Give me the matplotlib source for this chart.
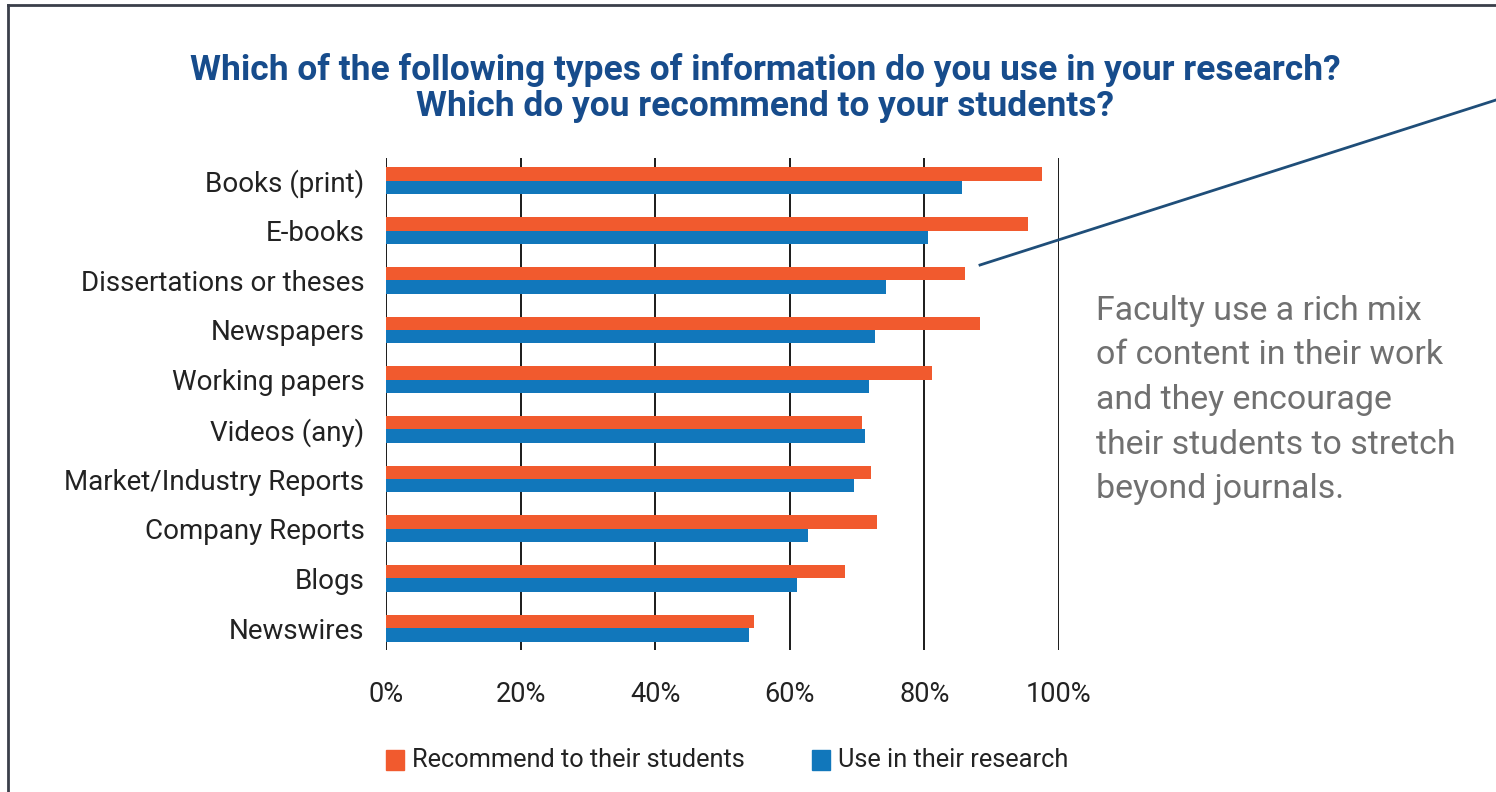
import matplotlib
matplotlib.use("Agg")
import matplotlib.pyplot as plt
from matplotlib.lines import Line2D
from matplotlib.patches import Rectangle
import numpy as np

plt.rcParams['font.family'] = ['Roboto', 'DejaVu Sans']

categories = ["Books (print)", "E-books", "Dissertations or theses", "Newspapers",
              "Working papers", "Videos (any)", "Market/Industry Reports",
              "Company Reports", "Blogs", "Newswires"]
recommend = [97.4, 95.4, 86.1, 88.3, 81.2, 70.7, 72.1, 72.9, 68.2, 54.7]
use_research = [85.6, 80.6, 74.3, 72.6, 71.8, 71.2, 69.6, 62.7, 61.1, 53.9]
xticks = [0, 20, 40, 60, 80, 100]
xticklabels = ["0%", "20%", "40%", "60%", "80%", "100%"]
series_names = ["Recommend to their students", "Use in their research"]
title = "Which of the following types of information do you use in your research?\nWhich do you recommend to your students?"
note = "Faculty use a rich mix\nof content in their work\nand they encourage\ntheir students to stretch\nbeyond journals."

ORANGE = "#F15A2E"
BLUE = "#1177BB"
TITLE_C = "#174C8C"
TEXT_C = "#222222"

W, H = 1496, 792
fig = plt.figure(figsize=(W / 100, H / 100), dpi=100)

ax = fig.add_axes([386 / W, 1 - 650 / H, (1059 - 386) / W, (650 - 158) / H])
y = np.arange(len(categories))
bh = 0.27
ax.barh(y - bh / 2, recommend, height=bh, color=ORANGE, zorder=3)
ax.barh(y + bh / 2, use_research, height=bh, color=BLUE, zorder=3)
ax.set_ylim(len(categories) - 0.56, -0.46)
ax.set_xlim(0, 100)
for s in ax.spines.values():
    s.set_visible(False)
ax.set_xticks(xticks)
ax.set_xticklabels(xticklabels, fontsize=19.5, color=TEXT_C)
ax.xaxis.grid(True, color="#1a1a1a", linewidth=1.4, zorder=0)
ax.tick_params(axis='x', length=0, pad=22)
ax.set_yticks(y)
ax.set_yticklabels(categories, fontsize=20, color=TEXT_C)
ax.tick_params(axis='y', length=0, pad=15.5)
ax.set_axisbelow(True)

fig.text(765 / W, 1 - 88 / H, title, ha='center', va='center', fontsize=25.5,
         fontweight='bold', color=TITLE_C, linespacing=1.12)

fig.text(1096 / W, 1 - 400 / H, note, ha='left', va='center', fontsize=24.4,
         fontweight='normal', color="#707070", linespacing=1.5)

# connector line
fig.add_artist(Line2D([980 / W, 1.0], [1 - 265 / H, 1 - 100 / H], color="#1F4E79",
                      linewidth=2.0))

# frame
fig.add_artist(Line2D([8 / W, 8 / W], [0, 1 - 5 / H], color="#3A3F4A", linewidth=2))
fig.add_artist(Line2D([8 / W, 1], [1 - 5 / H, 1 - 5 / H], color="#3A3F4A", linewidth=2))

# legend
leg_items = [(386, ORANGE, series_names[0]), (812, BLUE, series_names[1])]
for x0, c, lab in leg_items:
    fig.add_artist(Rectangle((x0 / W, 1 - 770 / H), 18 / W, 20 / H, color=c,
                             transform=fig.transFigure))
    fig.text((x0 + 26) / W, 1 - 760 / H, lab, ha='left', va='center', fontsize=18.3,
             color=TEXT_C)

fig.savefig("out.png", dpi=100)
